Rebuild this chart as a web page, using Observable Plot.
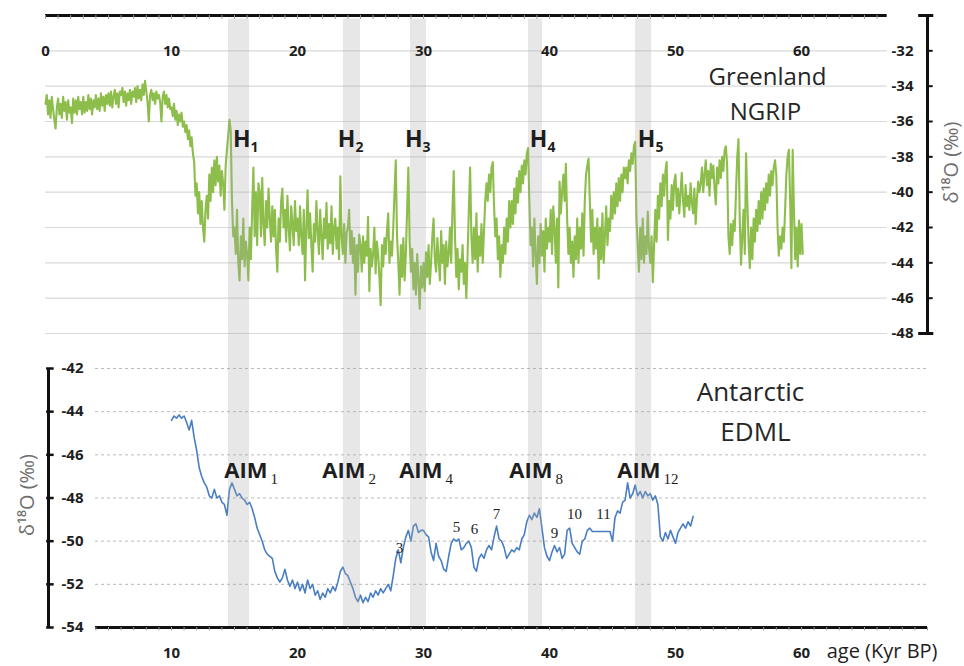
<!DOCTYPE html>
<html>
<head>
<meta charset="utf-8">
<script src="https://cdn.jsdelivr.net/npm/d3@7"></script>
<script src="https://cdn.jsdelivr.net/npm/@observablehq/plot@0.6"></script>
<style>
  body { margin: 0; background: #fff; }
  #chart { position: relative; width: 964px; height: 666px; overflow: hidden; background: #fff; }
  #chart svg { position: absolute; left: 0; }
</style>
</head>
<body>
<div id="chart"></div>
<script>
// ---- NGRIP (Greenland) δ18O, ‰ — one value every 0.1 kyr starting at 0 kyr BP ----
const ngripStart = 0;
const ngripStep = 0.1;
const ngripD18O = [
  -35.0, -34.5, -35.6, -34.8, -35.8, -34.6, -35.3, -35.9, -36.4, -35.2, //  0
  -34.7, -35.6, -35.0, -35.8, -34.6, -35.4, -34.9, -35.9, -34.8, -35.5, //  1
  -35.2, -36.1, -34.7, -35.5, -34.8, -35.6, -34.6, -35.3, -34.9, -35.6, //  2
  -34.6, -35.5, -34.9, -35.4, -34.5, -35.3, -34.7, -35.6, -34.8, -35.2, //  3
  -34.5, -35.3, -34.7, -35.4, -34.4, -35.1, -34.6, -35.4, -34.5, -35.0, //  4
  -34.4, -35.1, -34.3, -35.2, -34.6, -34.2, -35.0, -34.4, -35.2, -34.3, //  5
  -34.5, -34.1, -34.9, -34.3, -35.1, -34.4, -34.8, -34.2, -35.0, -34.3, //  6
  -34.6, -34.1, -34.9, -34.0, -34.7, -34.2, -34.8, -33.9, -34.5, -33.7, //  7
  -34.3, -34.9, -36.0, -34.5, -34.2, -34.8, -34.4, -35.0, -34.3, -34.7, //  8
  -34.5, -34.9, -36.0, -34.6, -34.3, -35.0, -34.5, -35.2, -34.7, -35.3, //  9
  -35.2, -35.7, -35.0, -35.9, -35.4, -36.2, -35.6, -36.0, -35.5, -36.3, // 10
  -36.0, -36.6, -36.2, -37.0, -36.5, -37.4, -36.9, -37.8, -38.3, -40.2, // 11
  -39.5, -41.2, -40.0, -41.8, -40.5, -42.0, -42.8, -41.0, -40.2, -41.5, // 12
  -39.0, -40.5, -38.6, -40.0, -38.2, -39.6, -38.0, -39.4, -38.5, -40.2, // 13
  -38.8, -39.5, -41.0, -38.5, -37.6, -36.8, -35.9, -36.5, -40.5, -42.5, // 14
  -42.0, -43.5, -41.0, -44.0, -45.0, -42.5, -43.8, -41.5, -44.2, -42.8, // 15
  -43.5, -45.0, -42.0, -43.8, -41.0, -38.6, -42.5, -40.0, -43.0, -39.5, // 16
  -40.0, -42.5, -39.2, -41.8, -43.0, -40.5, -42.0, -39.8, -41.5, -42.8, // 17
  -40.8, -42.5, -41.0, -43.2, -44.5, -41.5, -42.8, -40.5, -39.8, -42.0, // 18
  -41.0, -42.8, -40.2, -42.0, -43.3, -40.8, -41.8, -43.0, -40.5, -42.2, // 19
  -41.5, -43.0, -40.8, -42.5, -43.5, -41.0, -45.0, -42.0, -39.9, -42.6, // 20
  -41.2, -43.0, -44.5, -41.8, -42.8, -40.5, -42.2, -43.5, -41.0, -42.5, // 21
  -43.8, -41.5, -42.6, -40.6, -43.2, -41.8, -42.9, -40.8, -43.5, -42.0, // 22
  -41.5, -43.2, -42.0, -43.8, -39.1, -42.5, -43.5, -41.8, -44.0, -42.3, // 23
  -42.0, -41.0, -43.5, -42.2, -44.0, -42.6, -45.8, -43.0, -44.5, -42.4, // 24
  -43.0, -44.5, -42.5, -44.0, -42.8, -43.6, -41.4, -45.6, -43.2, -44.2, // 25
  -43.5, -42.0, -44.6, -42.8, -43.5, -44.8, -46.4, -43.0, -44.2, -42.6, // 26
  -43.5, -42.2, -41.2, -44.0, -42.8, -43.6, -42.0, -40.0, -38.2, -42.5, // 27
  -44.0, -45.8, -43.0, -44.8, -42.6, -45.0, -43.5, -41.0, -38.6, -42.8, // 28
  -44.5, -43.2, -45.5, -44.0, -45.8, -43.5, -45.0, -46.6, -44.2, -45.4, // 29
  -44.0, -45.6, -43.4, -44.8, -43.0, -45.2, -44.0, -42.5, -41.5, -43.8, // 30
  -44.5, -42.6, -43.8, -45.0, -42.2, -44.0, -43.0, -45.2, -42.8, -44.2, // 31
  -43.5, -42.0, -44.0, -41.0, -38.8, -42.5, -44.8, -43.2, -45.5, -43.8, // 32
  -44.5, -43.0, -45.2, -44.0, -46.0, -43.5, -41.0, -38.6, -42.5, -44.0, // 33
  -42.0, -43.8, -41.2, -44.5, -42.5, -43.6, -41.8, -44.0, -42.2, -40.5, // 34
  -39.5, -40.5, -39.0, -40.0, -38.6, -38.3, -40.8, -42.5, -41.5, -43.8, // 35
  -42.5, -44.8, -43.0, -44.0, -42.0, -43.5, -41.5, -42.8, -40.5, -42.0, // 36
  -40.5, -41.8, -39.8, -41.2, -39.2, -40.6, -38.8, -40.0, -38.5, -39.5, // 37
  -38.2, -39.0, -37.8, -37.5, -40.5, -43.0, -42.0, -44.2, -41.5, -43.5, // 38
  -45.2, -42.5, -44.0, -41.8, -43.6, -42.2, -44.5, -41.5, -43.2, -42.0, // 39
  -42.8, -41.0, -43.5, -40.8, -42.0, -44.0, -41.5, -45.4, -39.4, -41.2, // 40
  -40.0, -39.0, -40.5, -38.4, -41.5, -43.5, -42.0, -44.0, -42.8, -44.8, // 41
  -42.5, -43.8, -41.5, -44.0, -42.0, -43.2, -41.2, -43.6, -40.5, -39.0, // 42
  -38.5, -38.1, -40.5, -42.8, -41.0, -43.5, -42.0, -43.2, -41.5, -44.9, // 43
  -42.0, -43.8, -41.2, -44.0, -42.5, -40.8, -43.0, -41.5, -42.2, -40.2, // 44
  -41.5, -40.0, -41.2, -39.5, -40.8, -39.2, -40.5, -39.0, -40.0, -38.6, // 45
  -39.2, -38.6, -39.5, -38.2, -38.8, -37.8, -38.4, -37.4, -37.15, -41.5, // 46
  -43.0, -44.5, -42.0, -43.8, -41.5, -44.0, -42.5, -43.5, -41.1, -43.2, // 47
  -44.0, -42.5, -45.1, -43.0, -41.0, -42.8, -40.2, -41.5, -39.5, -40.8, // 48
  -39.0, -40.2, -38.8, -38.3, -42.7, -40.5, -41.5, -39.6, -41.0, -39.4, // 49
  -39.0, -40.8, -39.8, -41.2, -40.0, -38.9, -40.5, -41.4, -39.6, -40.8, // 50
  -40.2, -41.0, -39.5, -40.6, -41.2, -39.8, -41.8, -40.4, -39.4, -40.0, // 51
  -39.5, -38.6, -40.0, -39.0, -38.2, -39.6, -38.8, -40.2, -38.4, -39.2, // 52
  -38.5, -39.8, -40.7, -38.6, -39.5, -38.2, -39.2, -38.0, -38.8, -37.6, // 53
  -37.4, -38.5, -42.5, -43.5, -41.8, -43.0, -41.6, -42.2, -40.0, -38.0, // 54
  -37.0, -41.5, -44.1, -42.5, -41.0, -43.5, -37.8, -40.5, -42.8, -44.3, // 55
  -42.0, -43.8, -41.5, -42.8, -41.0, -42.2, -40.5, -41.8, -40.0, -41.5, // 56
  -39.8, -41.0, -39.5, -40.6, -39.0, -40.2, -38.8, -39.6, -38.6, -38.2, // 57
  -39.0, -42.0, -43.6, -42.5, -43.2, -42.0, -42.8, -41.0, -39.0, -38.0, // 58
  -37.6, -40.5, -44.3, -37.6, -41.0, -43.8, -42.0, -44.2, -41.6, -43.5, // 59
  -41.8, -43.5                                                          // 60
];

// ---- EDML (Antarctica) δ18O, ‰ — one value every 0.2 kyr starting at 10 kyr BP ----
const edmlStart = 10;
const edmlStep = 0.2;
const edmlD18O = [
  -44.4, -44.2, -44.3, -44.15, -44.3, -44.2, -44.5, -44.85, -44.4, -45.2, // 10–12
  -45.8, -46.6, -47.0, -47.3, -47.5, -47.9, -48.0, -47.6, -48.0, -47.9,   // 12–14
  -48.2, -48.3, -48.8, -47.6, -47.3, -47.6, -47.9, -47.8, -48.0, -48.1,   // 14–16
  -48.3, -48.2, -48.5, -48.9, -49.4, -49.7, -50.0, -50.4, -50.6, -50.7,   // 16–18
  -50.8, -51.4, -51.7, -51.9, -51.7, -51.3, -51.8, -52.1, -51.8, -52.2,   // 18–20
  -51.9, -52.3, -52.0, -52.4, -51.8, -52.2, -52.0, -52.5, -52.3, -52.7,   // 20–22
  -52.4, -52.6, -52.2, -52.4, -52.1, -52.3, -51.9, -51.4, -51.2, -51.5,   // 22–24
  -51.6, -51.9, -52.2, -52.6, -52.8, -52.5, -52.85, -52.6, -52.8, -52.4,  // 24–26
  -52.6, -52.3, -52.5, -52.2, -52.4, -52.2, -52.0, -52.3, -51.6, -50.8,   // 26–28
  -50.4, -51.0, -50.3, -49.8, -49.5, -50.0, -49.3, -49.2, -49.6, -49.5,   // 28–30
  -49.5, -49.7, -49.8, -50.5, -50.9, -50.1, -50.7, -50.9, -51.3, -51.4,   // 30–32
  -50.7, -50.1, -49.9, -50.0, -49.9, -50.4, -50.3, -50.1, -50.0, -50.3,   // 32–34
  -51.2, -51.4, -50.8, -50.6, -50.8, -50.4, -50.2, -50.4, -49.8, -49.3,   // 34–36
  -49.9, -50.0, -50.3, -50.8, -50.6, -50.4, -50.5, -50.3, -50.4, -49.9,   // 36–38
  -49.7, -49.1, -48.8, -49.0, -48.7, -48.9, -48.5, -49.4, -50.3, -50.7,   // 38–40
  -50.9, -50.5, -50.2, -50.5, -50.3, -50.8, -50.6, -49.5, -49.4, -50.1,   // 40–42
  -50.3, -50.5, -50.6, -50.0, -49.9, -49.5, -49.4, -49.55, -49.55, -49.55, // 42–44
  -49.55, -49.55, -49.55, -49.55, -49.55, -50.0, -48.9, -48.6, -48.7, -48.2, // 44–46
  -48.1, -47.3, -48.0, -47.8, -47.4, -47.9, -47.7, -48.0, -47.7, -47.9,   // 46–48
  -47.8, -48.1, -47.9, -48.3, -49.8, -50.0, -49.6, -49.9, -49.5, -49.8,   // 48–50
  -50.1, -49.6, -49.4, -49.2, -49.4, -49.1, -49.3, -48.85                 // 50–51.4
];

// ---- Heinrich events (shaded), kyr BP ----
const heinrichStart = [14.52, 23.65, 28.97, 38.33, 46.83];
const heinrichEnd   = [16.19, 25.00, 30.24, 39.44, 48.10];
const heinrichNames = ["1", "2", "3", "4", "5"];
const heinrichLabelAge = [16.27, 24.60, 29.92, 39.84, 48.41];

// ---- Antarctic Isotope Maxima ----
const aimMajorNames = ["1", "2", "4", "8", "12"];
const aimMajorAge   = [17.62, 25.40, 31.50, 40.24, 48.81];
const aimMinorNames = ["3", "5", "6", "7", "9", "10", "11"];
const aimMinorAge   = [28.10, 32.62, 34.05, 35.79, 40.40, 41.98, 44.29];
const aimMinorD18O  = [-50.34, -49.37, -49.46, -48.77, -49.65, -48.77, -48.77];

// ---- axes ----
const ageTicksTop = [0, 10, 20, 30, 40, 50, 60];
const ageTicksBottom = [10, 20, 30, 40, 50, 60];
const greenlandTicks = [-32, -34, -36, -38, -40, -42, -44, -46, -48];
const antarcticTicks = [-42, -44, -46, -48, -50, -52, -54];
const ageTitle = "age (Kyr BP)";
const isoTitle = "δ¹⁸O (‰)";

// ---- shared layout & style ----
const GREEN = "#8dbd4b";
const BLUE = "#4a7ec2";
const INK = "#1e1e1e";
const SANS = '"Open Sans", "DejaVu Sans", sans-serif';
const SERIF = '"Liberation Serif", "DejaVu Serif", serif';
const W = 964, ML = 45, MR = 37;
const AGE_DOMAIN = [0, 70];
// panel heights/margins: the shaded bands run seamlessly from one panel into the next
const TOP_H = 342, TOP_MT = 15, TOP_MB = 9;
const BOT_H = 324, BOT_MT = 26, BOT_MB = 39;
const topEdgeLow = -48 - TOP_MB * 18 / (TOP_H - TOP_MT - TOP_MB);   // δ18O at the top panel's lower edge
const botEdgeHigh = -42 + BOT_MT * 12 / (BOT_H - BOT_MT - BOT_MB);  // δ18O at the bottom panel's upper edge

const ngrip = ngripD18O.map((v, i) => ({age: +(ngripStart + i * ngripStep).toFixed(2), d18O: v}));
const edml = edmlD18O.map((v, i) => ({age: +(edmlStart + i * edmlStep).toFixed(2), d18O: v}));
const bands = heinrichStart.map((s, i) => ({x1: s, x2: heinrichEnd[i]}));
const hLabels = heinrichNames.map((n, i) => ({name: n, age: heinrichLabelAge[i]}));
const aimLabels = aimMajorNames.map((n, i) => ({name: n, age: aimMajorAge[i]}));
const aimMinor = aimMinorNames.map((n, i) => ({name: n, age: aimMinorAge[i], d18O: aimMinorD18O[i]}));
const fmt = d => String(d);

// ---------------- Greenland panel ----------------
const topPlot = Plot.plot({
  width: W, height: TOP_H,
  marginLeft: ML, marginRight: MR, marginTop: TOP_MT, marginBottom: TOP_MB,
  x: {domain: AGE_DOMAIN, axis: null},
  y: {domain: [-48, -30], axis: null},
  style: {fontFamily: SANS, background: "transparent", overflow: "visible"},
  marks: [
    Plot.ruleY(greenlandTicks, {y: d => d, x1: 0, x2: 66.8, stroke: "#d9d9d9", strokeWidth: 1.2}),
    Plot.line(ngrip, {x: "age", y: "d18O", stroke: GREEN, strokeWidth: 2.1}),
    Plot.rect(bands, {x1: "x1", x2: "x2", y1: -30.2, y2: topEdgeLow, fill: "#a8a8a8", fillOpacity: 0.28}),
    // top age axis
    Plot.ruleY([-30], {x1: 0, x2: 66.8, stroke: "#111", strokeWidth: 3}),
    Plot.ruleX(d3.range(0, 67), {x: d => d, y1: -30, y2: -30.22, stroke: "#9a9a9a"}),
    Plot.text(ageTicksTop, {x: d => d, frameAnchor: "top", dy: 30, text: fmt,
      fontSize: 15, fontWeight: "bold", fill: INK}),
    // right δ18O axis
    Plot.ruleX([70], {y1: -30, y2: -48, stroke: "#111", strokeWidth: 3}),
    Plot.ruleY([-30, -48], {x1: 69.3, x2: 70.5, stroke: "#111", strokeWidth: 3}),
    Plot.ruleY(greenlandTicks.slice(0, -1), {y: d => d, x1: 70, x2: 70.45, stroke: "#111", strokeWidth: 2}),
    Plot.text(greenlandTicks, {y: d => d, frameAnchor: "right", dx: -14, textAnchor: "end", text: fmt,
      fontSize: 15, fontWeight: "bold", fill: INK}),
    Plot.text([isoTitle], {frameAnchor: "right", dx: 24, dy: -12, rotate: -90, textAnchor: "middle",
      text: d => d, fontSize: 20, fill: "#6e6e6e"}),
    // annotations
    Plot.text(hLabels, {x: "age", y: -37.0, text: () => "H", textAnchor: "end",
      fontSize: 23, fontWeight: "bold", fill: INK}),
    Plot.text(hLabels, {x: "age", y: -37.45, text: "name", textAnchor: "start",
      fontSize: 14, fontWeight: "bold", fill: INK}),
    Plot.text(["Greenland", "NGRIP"], {x: [57.3, 57.14], y: [-33.5, -35.5], text: d => d,
      fontSize: 24, fill: "#262626"})
  ]
});

// ---------------- Antarctic panel ----------------
const bottomPlot = Plot.plot({
  width: W, height: BOT_H,
  marginLeft: ML, marginRight: MR, marginTop: BOT_MT, marginBottom: BOT_MB,
  x: {domain: AGE_DOMAIN, axis: null},
  y: {domain: [-54, -42], axis: null},
  style: {fontFamily: SANS, background: "transparent", overflow: "visible"},
  marks: [
    Plot.ruleY(antarcticTicks.slice(0, -1), {y: d => d, x1: 3.97, x2: 70, stroke: "#b9b9b9",
      strokeWidth: 1, strokeDasharray: "3,3"}),
    Plot.line(edml, {x: "age", y: "d18O", stroke: BLUE, strokeWidth: 1.6}),
    Plot.rect(bands, {x1: "x1", x2: "x2", y1: botEdgeHigh, y2: -54, fill: "#a8a8a8", fillOpacity: 0.28}),
    // bottom age axis
    Plot.ruleY([-54], {x1: 3.97, x2: 70, stroke: "#111", strokeWidth: 3}),
    Plot.ruleX(d3.range(4, 71), {x: d => d, y1: -54, y2: -54.16, stroke: "#9a9a9a"}),
    Plot.text(ageTicksBottom, {x: d => d, frameAnchor: "bottom", dy: 30, text: fmt,
      fontSize: 15, fontWeight: "bold", fill: INK}),
    Plot.text([ageTitle], {frameAnchor: "bottom-right", dx: 10, dy: 30, textAnchor: "end", text: d => d,
      fontSize: 20, fill: INK}),
    // left δ18O axis
    Plot.ruleX([0], {y1: -42, y2: -54, stroke: "#111", strokeWidth: 3, dx: 3}),
    Plot.ruleY(antarcticTicks, {y: d => d, x1: -0.15, x2: 0.45, stroke: "#111", strokeWidth: 2.5, dx: 3}),
    Plot.text(antarcticTicks, {y: d => d, frameAnchor: "left", dx: 16, textAnchor: "start", text: fmt,
      fontSize: 15, fontWeight: "bold", fill: INK}),
    Plot.text([isoTitle], {frameAnchor: "left", dx: -18, dy: -3, rotate: -90, textAnchor: "middle",
      text: d => d, fontSize: 20, fill: "#6e6e6e"}),
    // annotations
    Plot.text(aimLabels, {x: "age", y: -46.73, text: () => "AIM", textAnchor: "end",
      fontSize: 22, fontWeight: "bold", fill: INK}),
    Plot.text(aimLabels, {x: "age", y: -47.12, dx: 3, text: "name", textAnchor: "start",
      fontSize: 15, fontFamily: SERIF, fill: INK}),
    Plot.text(aimMinor, {x: "age", y: "d18O", text: "name",
      fontSize: 15, fontFamily: SERIF, fill: INK}),
    Plot.text(["Antarctic", "EDML"], {x: [55.95, 56.35], y: [-43.11, -44.97], text: d => d,
      fontSize: 26, fill: "#262626"})
  ]
});

const chart = document.getElementById("chart");
topPlot.style.top = "0px";
bottomPlot.style.top = TOP_H + "px";
chart.appendChild(topPlot);
chart.appendChild(bottomPlot);
</script>
</body>
</html>
